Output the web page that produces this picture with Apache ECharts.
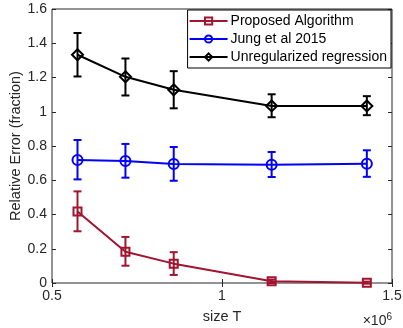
<!DOCTYPE html>
<html>
<head>
<meta charset="utf-8">
<script src="https://cdn.jsdelivr.net/npm/echarts@6/dist/echarts.min.js"></script>
<style>
  html, body { margin: 0; padding: 0; background: #fff; }
  #chart { width: 403px; height: 328px; }
</style>
</head>
<body>
<div id="chart"></div>
<script>
// sample sizes T
const sizes = [575000, 716000, 858000, 1146000, 1426000];

// Proposed Algorithm
const propMean = [0.418, 0.183, 0.113, 0.010, 0.002];
const propLow = [0.302, 0.101, 0.047, 0.000, -0.004];
const propHigh = [0.535, 0.269, 0.180, 0.020, 0.008];

// Jung et al 2015
const jungMean = [0.718, 0.712, 0.695, 0.691, 0.697];
const jungLow = [0.605, 0.615, 0.597, 0.619, 0.620];
const jungHigh = [0.835, 0.812, 0.794, 0.765, 0.775];

// Unregularized regression
const unregMean = [1.333, 1.204, 1.128, 1.034, 1.034];
const unregLow = [1.206, 1.095, 1.020, 0.968, 0.980];
const unregHigh = [1.460, 1.311, 1.237, 1.102, 1.091];

const yTicks = [0, 0.2, 0.4, 0.6, 0.8, 1, 1.2, 1.4, 1.6];

const RED = '#A2142F';
const BLUE = '#0000FF';
const BLACK = '#000000';
const AXIS = '#262626';
const FONT = '"Liberation Sans", Arial, sans-serif';

const chart = echarts.init(document.getElementById('chart'), null, { renderer: 'canvas' });

function pairs(xs, ys) {
  return xs.map((x, i) => [x, ys[i]]);
}
function bars(xs, lo, hi) {
  return xs.map((x, i) => [x, lo[i], hi[i]]);
}

function errorSeries(name, color, data) {
  return {
    name: name,
    type: 'custom',
    z: 2,
    silent: true,
    data: data,
    renderItem: function (params, api) {
      const x = api.value(0);
      const lo = api.coord([x, api.value(1)]);
      const hi = api.coord([x, api.value(2)]);
      const cap = 4;
      const style = { stroke: color, lineWidth: 2 };
      return {
        type: 'group',
        children: [
          { type: 'line', shape: { x1: lo[0], y1: lo[1], x2: hi[0], y2: hi[1] }, style: style },
          { type: 'line', shape: { x1: lo[0] - cap, y1: lo[1], x2: lo[0] + cap, y2: lo[1] }, style: style },
          { type: 'line', shape: { x1: hi[0] - cap, y1: hi[1], x2: hi[0] + cap, y2: hi[1] }, style: style }
        ]
      };
    }
  };
}

function lineSeries(name, color, symbol, size, data) {
  return {
    name: name,
    type: 'line',
    z: 3,
    data: data,
    symbol: symbol,
    symbolSize: size,
    showAllSymbol: true,
    lineStyle: { color: color, width: 2 },
    itemStyle: { color: 'rgba(0,0,0,0)', borderColor: color, borderWidth: 2 },
    emphasis: { disabled: true }
  };
}

const xBase = {
  type: 'value',
  min: 500000,
  max: 1500000,
  interval: 500000,
  splitLine: { show: false },
  axisLine: { show: false },
  axisTick: { show: true, inside: true, length: 4, lineStyle: { color: AXIS } }
};
const yBase = {
  type: 'value',
  min: 0,
  max: 1.6,
  interval: 0.2,
  splitLine: { show: false },
  axisLine: { show: false },
  axisTick: { show: true, inside: true, length: 4, lineStyle: { color: AXIS } }
};

const option = {
  animation: false,
  backgroundColor: '#fff',
  textStyle: { fontFamily: FONT },
  grid: {
    left: 52, right: 11, top: 9, bottom: 45,
    containLabel: false,
    outerBoundsMode: 'none',
    show: true, borderColor: AXIS, borderWidth: 1, backgroundColor: '#fff'
  },
  legend: {
    data: ['Proposed Algorithm', 'Jung et al 2015', 'Unregularized regression'],
    orient: 'vertical',
    right: 12,
    top: 10,
    padding: [4, 4, 4, 1],
    itemGap: 4,
    itemWidth: 38,
    itemHeight: 9,
    backgroundColor: '#fff',
    borderColor: BLACK,
    borderWidth: 1,
    textStyle: { fontSize: 14, color: '#000', fontFamily: FONT, padding: [0, 0, 0, -2] }
  },
  xAxis: [
    Object.assign({}, xBase, {
      position: 'bottom',
      name: 'size T',
      nameLocation: 'middle',
      nameGap: 26,
      nameMoveOverlap: false,
      nameTextStyle: { fontSize: 14.5, color: AXIS, fontFamily: FONT },
      axisLabel: {
        fontSize: 14, color: AXIS, margin: 6, fontFamily: FONT,
        formatter: v => String(v / 1e6)
      }
    }),
    Object.assign({}, xBase, { position: 'top', axisLabel: { show: false } })
  ],
  yAxis: [
    Object.assign({}, yBase, {
      position: 'left',
      name: 'Relative Error (fraction)',
      nameLocation: 'middle',
      nameGap: 29,
      nameMoveOverlap: false,
      nameTextStyle: { fontSize: 14.5, color: AXIS, fontFamily: FONT },
      axisLabel: {
        fontSize: 14, color: AXIS, margin: 5, fontFamily: FONT,
        formatter: v => {
          const t = yTicks.find(k => Math.abs(k - v) < 1e-9);
          return t === undefined ? '' : String(t);
        }
      }
    }),
    Object.assign({}, yBase, { position: 'right', axisLabel: { show: false } })
  ],
  graphic: [
    {
      type: 'text',
      right: 11,
      bottom: 0,
      style: {
        text: '×10{sup|6}',
        fill: AXIS,
        font: '14px ' + FONT,
        rich: { sup: { fontSize: 10, verticalAlign: 'top', padding: [0, 0, 7, 0], fill: AXIS } }
      }
    }
  ],
  series: [
    errorSeries('prop-err', RED, bars(sizes, propLow, propHigh)),
    errorSeries('jung-err', BLUE, bars(sizes, jungLow, jungHigh)),
    errorSeries('unreg-err', BLACK, bars(sizes, unregLow, unregHigh)),
    lineSeries('Proposed Algorithm', RED, 'rect', 8, pairs(sizes, propMean)),
    lineSeries('Jung et al 2015', BLUE, 'circle', 10, pairs(sizes, jungMean)),
    lineSeries('Unregularized regression', BLACK, 'diamond', 11, pairs(sizes, unregMean))
  ]
};

chart.setOption(option);
</script>
</body>
</html>
